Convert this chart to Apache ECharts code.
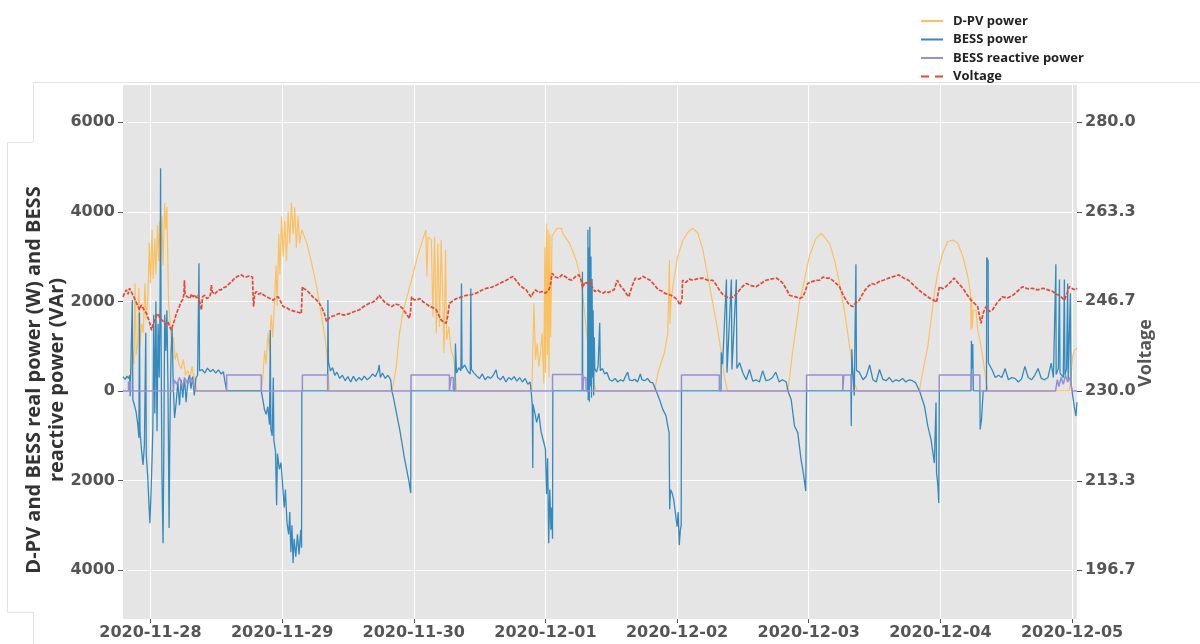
<!DOCTYPE html>
<html><head><meta charset="utf-8">
<script src="https://cdn.jsdelivr.net/npm/echarts@6/dist/echarts.min.js"></script>
<style>html,body{margin:0;padding:0;background:#fff}#c{width:1200px;height:644px}</style>
</head><body><div id="c"></div>
<script>
// [hours after 2020-11-28 00:00, value]
const pvPower = [[-5,0],[-3.8,0],[-3.5,400],[-3.2,900],[-3.0,600],[-2.8,2400],[-2.6,800],[-2.3,1100],[-2.1,2300],[-1.9,1000],[-1.6,1500],[-1.3,1300],[-1.0,2400],[-0.8,1600],[-0.5,2000],[-0.2,3300],[0.0,2400],[0.3,3600],[0.5,2500],[0.8,3400],[1.0,2600],[1.3,3700],[1.5,2900],[1.7,3800],[1.9,3000],[2.1,3900],[2.3,2800],[2.6,4200],[2.8,3600],[3.0,4100],[3.3,2000],[3.6,1500],[3.9,1000],[4.2,1200],[4.5,700],[4.8,850],[5.2,600],[5.6,500],[6.0,700],[6.4,350],[6.8,450],[7.2,300],[7.6,550],[8.0,250],[8.3,100],[8.5,0],
[20.2,0],[20.5,300],[20.8,900],[21.1,600],[21.4,1300],[21.7,900],[22.0,1700],[22.3,1200],[22.6,2000],[22.9,2800],[23.1,1900],[23.4,3500],[23.6,2600],[23.9,3900],[24.2,3000],[24.5,3800],[24.8,2900],[25.1,4000],[25.4,3300],[25.7,4200],[26.0,3500],[26.3,4100],[26.6,3200],[26.9,3900],[27.2,3300],[27.6,3600],[28.5,3300],[29.4,2850],[30.3,2330],[31.2,1660],[31.8,1200],[32.1,900],[32.4,400],[32.6,0],
[44.0,0],[44.5,300],[44.8,540],[45.4,1290],[46.0,1730],[46.6,2030],[47.6,2480],[48.5,2920],[49.4,3290],[50.2,3590],[50.4,2550],[50.6,3440],[51.2,3370],[51.5,1660],[51.8,3440],[52.1,1290],[52.4,3290],[52.7,1430],[53.0,3370],[53.3,2030],[53.5,840],[53.8,3150],[54.0,1140],[54.4,1430],[54.8,910],[55.2,770],[55.5,540],[55.8,0],
[69.5,0],[69.6,320],[69.9,1960],[70.2,700],[70.5,1060],[70.8,540],[71.1,840],[71.4,1290],[71.7,170],[71.9,3200],[72.0,400],[72.2,3740],[72.35,800],[72.5,3600],[72.65,300],[72.8,3500],[72.95,1200],[73.2,3460],[74.1,3630],[74.9,3630],[75.2,3500],[76.4,3300],[77.6,2920],[78.5,2480],[79.1,1800],[79.7,1070],[80.4,470],[81.0,90],[81.3,0],
[91.9,0],[92.5,400],[93.1,630],[93.7,860],[94.3,1290],[94.6,2920],[94.7,1500],[94.9,2030],[95.5,2550],[96.1,3000],[97.1,3370],[98.0,3550],[98.9,3630],[99.8,3520],[100.7,3150],[101.6,2550],[102.5,1960],[103.4,1360],[104.0,910],[104.6,320],[105.2,0],
[116.2,0],[117.1,910],[118.3,1960],[120.1,3000],[121.3,3400],[122.3,3520],[123.8,3290],[124.7,2920],[125.6,2400],[126.5,1800],[127.1,1290],[127.7,770],[128.3,170],[128.9,0],
[140.2,0],[140.5,250],[141.1,620],[141.7,990],[142.3,1580],[142.9,2180],[143.5,2630],[144.4,3070],[145.3,3330],[146.3,3370],[147.2,3290],[148.1,3000],[149.0,2550],[149.5,2180],[149.6,1360],[149.7,2100],[149.8,1400],[150.0,1800],[150.5,1800],[150.8,1360],[151.2,1140],[151.8,690],[152.4,150],[152.7,0],
[167.5,0],[167.8,320],[168.1,770],[168.4,910],[168.9,960]];

const bessPower = [[-5.0,320],[-4.6,260],[-4.3,330],[-4.0,280],[-3.8,350],[-3.7,-120],[-3.35,-80],[-3.3,2030],[-3.2,-200],[-2.9,-320],[-2.6,-480],[-2.3,-750],[-2.1,-1050],[-2.0,1750],[-1.9,-900],[-1.6,-1350],[-1.35,-1650],[-1.1,-1200],[-0.85,1300],[-0.75,-1450],[-0.5,-1900],[-0.3,-2450],[-0.1,-2950],[0.1,-2300],[0.3,-1500],[0.45,-800],[0.6,1700],[0.8,-500],[1.0,2000],[1.2,-900],[1.4,1500],[1.6,300],[1.75,1900],[1.85,4970],[1.95,1000],[2.1,-1900],[2.3,-3400],[2.45,-1200],[2.6,1700],[2.8,900],[3.0,1800],[3.2,100],[3.4,-3060],[3.55,-900],[3.75,800],[3.95,1400],[4.15,150],[4.4,-600],[4.7,-250],[5.0,200],[5.3,-320],[5.6,250],[5.9,-150],[6.2,300],[6.5,-250],[6.8,200],[7.1,350],[7.4,50],[7.7,320],[8.0,-100],[8.3,300],[8.6,350],[8.85,2850],[8.95,450],[9.4,480],[9.9,400],[10.4,510],[10.9,430],[11.4,480],[11.9,400],[12.4,470],[12.9,380],[13.3,430],[13.6,200],[13.9,0],
[20.2,0],[20.5,-200],[20.8,-420],[21.1,-520],[21.4,-350],[21.7,-750],[21.85,1360],[21.95,-850],[22.2,-1000],[22.4,300],[22.5,-1100],[22.8,-1350],[23.0,-2550],[23.15,-1400],[23.5,-1750],[23.8,-1600],[24.1,-2100],[24.4,-2600],[24.6,-2200],[24.9,-2950],[25.2,-3200],[25.4,-2700],[25.6,-3600],[25.8,-3000],[26.0,-3840],[26.2,-3300],[26.5,-3700],[26.8,-3200],[27.1,-3650],[27.4,-3100],[27.55,-3500],[27.6,0],
[32.3,0],[32.35,2030],[32.45,650],[32.8,450],[33.2,520],[33.6,350],[34.0,420],[34.5,280],[35.0,350],[35.5,230],[36.0,320],[36.5,200],[37.0,330],[37.5,220],[38.0,300],[38.5,240],[39.0,330],[39.5,250],[40.0,300],[40.5,380],[41.0,320],[41.5,450],[41.7,580],[41.9,300],[42.3,400],[42.8,280],[43.3,350],[43.8,250],[44.0,0],[44.3,-150],[44.7,-400],[45.1,-650],[45.5,-900],[45.9,-1200],[46.3,-1500],[46.7,-1750],[47.1,-2000],[47.45,-2280],[47.5,0],
[55.5,0],[55.6,1060],[55.8,400],[56.2,520],[56.6,450],[56.7,2400],[56.8,500],[57.3,580],[57.8,450],[58.3,380],[58.4,2290],[58.5,480],[59.0,400],[59.5,330],[60.0,280],[60.5,380],[61.0,250],[61.5,320],[62.0,280],[62.5,350],[63.0,470],[63.3,300],[63.8,250],[64.3,330],[64.8,200],[65.3,300],[65.8,250],[66.3,320],[66.8,220],[67.3,300],[67.8,200],[68.3,280],[68.8,150],[69.2,200],[69.4,0],[69.6,-300],[69.7,-1720],[69.75,-300],[70.0,-450],[70.4,-700],[70.8,-500],[71.2,-900],[71.6,-1100],[72.0,-1300],[72.2,-2300],[72.4,-1500],[72.6,-3400],[72.8,-2200],[73.0,-3100],[73.15,-2600],[73.3,-3300],[73.35,0],
[78.7,0],[78.75,2660],[78.8,0],[79.7,0],[79.75,3600],[79.8,-200],[79.9,3200],[80.0,-240],[80.1,3665],[80.2,100],[80.3,3000],[80.4,-150],[80.5,2500],[80.6,300],[80.7,1800],[80.8,-100],[80.9,1200],[81.0,500],[81.3,420],[81.6,550],[81.9,1520],[82.0,450],[82.4,500],[82.8,380],[83.2,420],[83.7,250],[84.2,220],[84.7,280],[85.2,200],[85.7,250],[86.2,220],[86.7,350],[87.0,420],[87.3,250],[87.8,230],[88.3,260],[88.8,200],[89.3,380],[89.6,250],[90.1,230],[90.6,280],[91.1,200],[91.6,180],[92.2,0],[92.8,-190],[93.4,-410],[94.0,-560],[94.3,-780],[94.55,-930],[94.65,-2640],[94.8,-2200],[95.1,-2280],[95.4,-2430],[95.7,-2730],[96.0,-3030],[96.2,-2700],[96.4,-3440],[96.6,-3100],[96.75,-3000],[96.8,0],
[104.0,0],[104.05,860],[104.3,600],[105.0,2490],[105.1,410],[105.9,2490],[106.0,480],[106.8,2490],[106.9,500],[107.4,630],[108.0,400],[108.6,250],[109.2,480],[109.8,220],[110.4,250],[111.0,200],[111.6,450],[112.2,230],[112.8,250],[113.4,300],[114.0,420],[114.6,200],[115.2,250],[115.9,200],[116.2,0],[116.8,-190],[117.4,-780],[118.0,-930],[118.6,-1530],[119.0,-1820],[119.45,-2230],[119.6,0],
[127.7,0],[127.75,-780],[127.85,930],[128.0,500],[128.3,-100],[128.6,2830],[128.7,460],[129.2,420],[129.9,250],[130.5,330],[131.1,580],[131.7,250],[132.3,200],[132.9,480],[133.5,260],[134.1,230],[134.7,300],[135.3,200],[135.9,250],[136.5,220],[137.1,280],[137.7,200],[138.3,250],[138.9,230],[139.5,180],[140.2,0],[140.5,-40],[141.1,-340],[141.7,-780],[142.3,-1090],[142.9,-1610],[143.2,-260],[143.3,-1830],[143.55,-2130],[143.7,-2500],[143.8,0],
[149.6,0],[149.65,1120],[149.75,500],[149.9,1050],[150.0,0],[151.2,0],[151.25,-860],[151.5,-630],[151.8,0],[152.4,0],[152.45,2980],[152.7,2900],[152.75,630],[153.0,600],[153.5,450],[154.0,300],[154.6,350],[155.2,300],[155.8,500],[156.4,250],[157.0,300],[157.6,280],[158.2,200],[158.8,270],[159.4,550],[160.0,300],[160.6,250],[161.2,350],[161.8,500],[162.4,280],[163.0,250],[163.6,300],[164.2,620],[164.6,300],[165.05,2830],[165.1,370],[165.5,500],[165.7,2490],[165.8,400],[166.4,300],[166.6,2490],[166.7,350],[167.0,500],[167.2,2400],[167.3,250],[167.7,2180],[167.8,200],[168.1,-100],[168.4,-340],[168.7,-560],[168.9,-250]];

const bessReactive = [[-5,0],[-4.0,0],[-4.0,200],[-3.6,200],[-3.6,0],[4.2,0],[4.3,250],[4.8,150],[5.3,300],[5.8,100],[6.3,280],[6.8,150],[7.3,300],[7.8,200],[8.2,0],
[13.9,0],[13.9,357],[20.2,357],[20.2,0],[27.7,0],[27.7,357],[32.3,357],[32.3,0],
[47.5,0],[47.5,357],[54.5,357],[54.5,0],[54.8,0],[54.8,300],[55.2,300],[55.2,0],
[73.3,0],[73.3,370],[78.8,370],[78.8,0],[79.0,0],[79.0,300],[79.4,300],[79.4,0],
[96.8,0],[96.8,357],[103.7,357],[103.7,0],
[119.6,0],[119.6,357],[126.2,357],[126.2,0],[126.4,0],[126.4,357],[127.7,357],[127.7,0],
[143.8,0],[143.8,357],[149.6,357],[149.6,0],[149.8,0],[149.8,357],[151.2,357],[151.2,0],
[165.0,0],[165.3,250],[165.6,100],[166.0,300],[166.4,150],[166.8,350],[167.2,200],[167.6,300],[168.0,0],[168.9,0]];

const voltage = [[-5.0,247.5],[-4.7,248.2],[-4.4,248.8],[-4.1,248.0],[-3.8,249.1],[-3.5,248.5],[-3.2,248.2],[-2.9,247.2],[-2.6,246.9],[-2.3,245.8],[-1.95,245.1],[-1.65,246.0],[-1.35,245.7],[-1.0,244.8],[-0.7,244.4],[-0.4,243.5],[-0.1,242.6],[0.2,241.3],[0.5,242.5],[0.8,243.2],[1.1,244.0],[1.4,244.4],[1.7,243.6],[2.0,243.8],[2.3,243.0],[2.6,243.2],[2.9,242.4],[3.2,242.9],[3.5,242.0],[3.8,241.3],[4.1,242.3],[4.4,243.2],[4.7,244.3],[5.0,245.1],[5.3,245.8],[5.6,246.6],[5.9,247.0],[6.1,248.0],[6.2,250.6],[6.3,248.0],[6.6,247.6],[6.9,247.8],[7.2,247.2],[7.5,248.0],[7.8,247.5],[8.1,247.9],[8.4,247.3],[8.7,247.8],[9.0,247.6],[9.3,245.1],[9.5,247.5],[9.9,247.8],[10.3,247.2],[10.8,247.5],[11.0,248.3],[11.1,249.7],[11.3,248.4],[11.7,248.0],[12.0,248.2],[12.4,248.8],[12.9,248.8],[13.3,249.2],[13.8,249.4],[14.3,249.9],[14.8,250.3],[15.2,250.8],[15.7,251.2],[16.2,251.5],[16.6,251.6],[17.0,251.3],[17.5,251.2],[18.0,251.4],[18.6,251.2],[18.8,245.7],[19.0,248.0],[19.3,248.5],[19.7,248.0],[20.2,248.2],[20.7,247.8],[21.2,247.5],[21.8,247.2],[22.4,246.9],[22.9,247.4],[23.3,247.5],[23.8,246.5],[24.2,245.7],[24.8,245.5],[25.4,245.1],[26.0,244.9],[26.6,244.7],[27.1,244.6],[27.5,244.4],[27.7,249.4],[28.0,249.0],[28.4,248.8],[29.0,248.2],[29.6,247.5],[30.2,247.0],[30.8,246.3],[31.2,245.6],[31.7,244.4],[32.1,242.9],[32.5,243.5],[32.9,243.8],[33.5,244.0],[34.4,244.4],[35.3,244.1],[36.3,244.4],[37.2,244.8],[38.1,245.1],[39.0,245.8],[39.9,246.3],[40.5,246.5],[41.1,246.9],[41.7,247.8],[42.3,247.0],[42.9,246.3],[43.5,246.0],[44.0,245.7],[44.6,246.2],[45.3,246.0],[46.0,245.3],[46.6,244.4],[47.2,243.5],[47.4,244.5],[47.6,247.5],[48.0,247.0],[48.5,246.9],[49.1,247.2],[49.7,246.6],[50.3,246.2],[50.9,245.7],[51.5,245.5],[52.1,245.1],[52.6,244.0],[53.0,243.2],[53.5,242.8],[53.9,242.6],[54.2,244.0],[54.5,246.3],[55.2,246.8],[55.8,247.2],[56.7,247.5],[57.6,247.8],[58.5,247.9],[59.4,248.2],[60.3,248.7],[61.2,249.1],[62.2,249.3],[63.1,249.7],[64.0,250.2],[64.9,250.6],[65.5,251.0],[66.1,251.3],[66.7,250.5],[67.3,249.7],[67.9,249.2],[68.5,248.8],[69.0,248.0],[69.4,247.5],[69.8,248.3],[70.2,248.8],[70.8,248.3],[71.4,248.5],[72.0,248.2],[72.6,248.8],[72.9,249.5],[73.2,251.9],[73.8,251.2],[74.4,251.0],[75.0,251.6],[75.6,251.3],[76.2,250.8],[76.8,250.6],[77.4,251.2],[78.1,251.6],[78.5,250.6],[78.8,249.2],[79.2,250.3],[79.6,250.0],[80.1,250.6],[80.5,249.4],[81.0,248.5],[81.5,248.8],[82.0,248.4],[82.5,248.2],[83.0,248.5],[83.5,248.3],[84.0,248.6],[84.5,248.8],[85.1,250.6],[85.7,249.5],[86.3,248.8],[86.8,248.0],[87.2,247.5],[87.8,249.5],[88.4,251.0],[89.1,250.8],[89.8,251.3],[90.5,250.9],[91.1,250.6],[91.8,249.8],[92.6,248.8],[93.2,248.6],[93.7,248.2],[94.3,248.0],[94.9,247.8],[95.5,247.4],[96.1,246.9],[96.5,246.0],[96.7,245.7],[96.9,247.0],[97.0,250.6],[97.6,250.2],[98.2,250.8],[98.9,250.6],[99.8,250.9],[100.7,251.0],[101.6,250.6],[102.5,250.6],[103.1,249.8],[103.7,248.8],[104.3,248.0],[105.0,247.5],[105.6,247.3],[106.2,247.5],[106.8,248.0],[107.4,248.8],[108.0,249.5],[108.6,250.0],[109.5,249.6],[110.4,249.4],[111.3,250.0],[112.2,250.6],[113.1,250.8],[114.1,251.0],[114.7,250.6],[115.3,250.0],[115.9,249.0],[116.5,247.8],[117.1,247.6],[117.7,247.5],[118.3,247.2],[118.9,247.5],[119.4,248.6],[119.8,250.0],[120.5,250.3],[121.3,250.6],[122.0,250.6],[122.6,251.2],[123.2,251.0],[123.8,251.0],[124.7,250.3],[125.6,249.4],[126.2,248.0],[126.8,246.9],[127.4,246.0],[128.0,245.7],[128.6,246.4],[129.2,246.9],[129.8,248.0],[130.3,248.8],[130.9,249.5],[131.5,250.0],[132.1,249.8],[132.7,250.3],[133.6,250.6],[134.6,251.0],[135.5,251.3],[136.4,251.6],[137.3,251.0],[138.2,250.6],[138.8,250.0],[139.4,249.4],[140.3,248.6],[141.3,247.8],[142.0,247.3],[142.8,246.9],[143.3,246.5],[143.8,249.4],[144.4,249.0],[145.0,249.4],[145.8,250.2],[146.5,251.0],[147.3,250.0],[148.1,249.1],[148.8,248.0],[149.6,246.9],[150.2,246.3],[150.8,245.7],[151.4,242.6],[151.8,244.5],[152.3,245.7],[152.9,244.8],[153.5,245.1],[154.4,246.5],[155.3,247.5],[156.2,247.3],[157.2,247.8],[158.1,248.6],[159.0,249.4],[159.9,249.0],[160.8,249.1],[161.7,248.8],[162.7,249.1],[163.6,248.8],[164.5,248.5],[165.1,248.0],[165.7,247.8],[166.2,247.3],[166.6,246.9],[167.1,248.2],[167.5,249.4],[168.1,249.0],[168.7,248.8],[168.9,249.1]];

const dayTicks = ['2020-11-28','2020-11-29','2020-11-30','2020-12-01','2020-12-02','2020-12-03','2020-12-04','2020-12-05'];
const dayTickHours = [0,24,48,72,96,120,144,168];
const powerTicks = [-4000,-2000,0,2000,4000,6000];
const voltageTicks = [196.7,213.3,230.0,246.7,263.3,280.0];
const seriesNames = ['D-PV power','BESS power','BESS reactive power','Voltage'];
const seriesColors = ['#FBC15E','#348ABD','#988ED5','#E24A33'];
const leftTitle = 'D-PV and BESS real power (W) and BESS\nreactive power (VAr)';
const rightTitle = 'Voltage';

const wMin = -5090, wMax = 6830;
const vMin = 230 + wMin/120, vMax = 230 + wMax/120;

const solidIcon = 'path://M0,0L22,0L22,2L0,2Z';
const dashIcon = 'path://M0,0L8,0L8,2L0,2Z M14,0L22,0L22,2L14,2Z';

const tickFont = {fontFamily:'DejaVu Sans', fontWeight:'bold', fontSize:16, color:'#555'};
const chart = echarts.init(document.getElementById('c'), null, {renderer:'canvas'});
chart.setOption({
  animation:false,
  backgroundColor:'#fff',
  grid:{left:123, top:85, right:123, bottom:25, show:true, backgroundColor:'#E5E5E5', borderWidth:0},
  legend:{
    orient:'vertical', left:921, top:14, padding:0, itemWidth:22, itemHeight:2, itemGap:4.5,
    data:[{name:seriesNames[0], icon:solidIcon},{name:seriesNames[1], icon:solidIcon},{name:seriesNames[2], icon:solidIcon},{name:seriesNames[3], icon:dashIcon}],
    itemStyle:{borderWidth:0},
    textStyle:{fontFamily:'Open Sans', fontWeight:'bold', fontSize:13, color:'#222', lineHeight:14, padding:[0,0,0,5]}
  },
  xAxis:{
    type:'value', min:-5, max:168.9,
    axisLine:{show:false, onZero:false},
    axisTick:{show:true, length:4, lineStyle:{color:'#555'}, customValues:dayTickHours},
    axisLabel:Object.assign({margin:6, formatter:v=>dayTicks[dayTickHours.indexOf(Math.round(v))] || '', customValues:dayTickHours}, tickFont),
    splitLine:{show:true, lineStyle:{color:'#fff', width:1}}
  },
  yAxis:[{
    type:'value', min:wMin, max:wMax,
    axisLine:{show:false, onZero:false},
    axisTick:{show:true, length:5, lineStyle:{color:'#555'}, customValues:powerTicks},
    axisLabel:Object.assign({margin:8, formatter:v=>String(Math.abs(v)), customValues:powerTicks}, tickFont),
    splitLine:{show:true, lineStyle:{color:'#fff', width:1}}
  },{
    type:'value', min:vMin, max:vMax, position:'right',
    axisLine:{show:false, onZero:false},
    axisTick:{show:true, length:5, lineStyle:{color:'#555'}, customValues:voltageTicks},
    axisLabel:Object.assign({margin:8, formatter:v=>v.toFixed(1), customValues:voltageTicks}, tickFont),
    splitLine:{show:false}
  }],
  series:[
    {name:seriesNames[0], type:'line', data:pvPower, symbol:'none', yAxisIndex:0, lineStyle:{color:seriesColors[0], width:1.2}, itemStyle:{color:seriesColors[0]}, z:2},
    {name:seriesNames[1], type:'line', data:bessPower, symbol:'none', yAxisIndex:0, lineStyle:{color:seriesColors[1], width:1.3}, itemStyle:{color:seriesColors[1]}, z:3},
    {name:seriesNames[2], type:'line', data:bessReactive, symbol:'none', yAxisIndex:0, lineStyle:{color:seriesColors[2], width:1.5}, itemStyle:{color:seriesColors[2]}, z:4},
    {name:seriesNames[3], type:'line', data:voltage, symbol:'none', yAxisIndex:1, lineStyle:{color:seriesColors[3], width:1.7, type:[4,1.5]}, itemStyle:{color:seriesColors[3]}, z:5}
  ],
  graphic:[
    {type:'line', shape:{x1:33, y1:82.5, x2:1200, y2:82.5}, style:{stroke:'#e2e2e2', lineWidth:1}, silent:true},
    {type:'line', shape:{x1:33.5, y1:82, x2:33.5, y2:142}, style:{stroke:'#e2e2e2', lineWidth:1}, silent:true},
    {type:'line', shape:{x1:33.5, y1:612, x2:33.5, y2:644}, style:{stroke:'#e2e2e2', lineWidth:1}, silent:true},
    {type:'polyline', shape:{points:[[33,142.5],[7.5,142.5],[7.5,612.5],[33,612.5]]}, style:{stroke:'#e2e2e2', fill:null, lineWidth:1}, silent:true},
    {type:'text', x:45.5, y:380, rotation:Math.PI/2, silent:true,
     style:{text:leftTitle, font:'bold 20px "Open Sans"', fill:'#333', align:'center', verticalAlign:'middle', textAlign:'center', textVerticalAlign:'middle', lineHeight:23}},
    {type:'text', x:1146, y:353, rotation:Math.PI/2, silent:true,
     style:{text:rightTitle, font:'bold 18px "Open Sans"', fill:'#555', align:'center', verticalAlign:'middle', textAlign:'center', textVerticalAlign:'middle'}}
  ]
});
</script></body></html>
